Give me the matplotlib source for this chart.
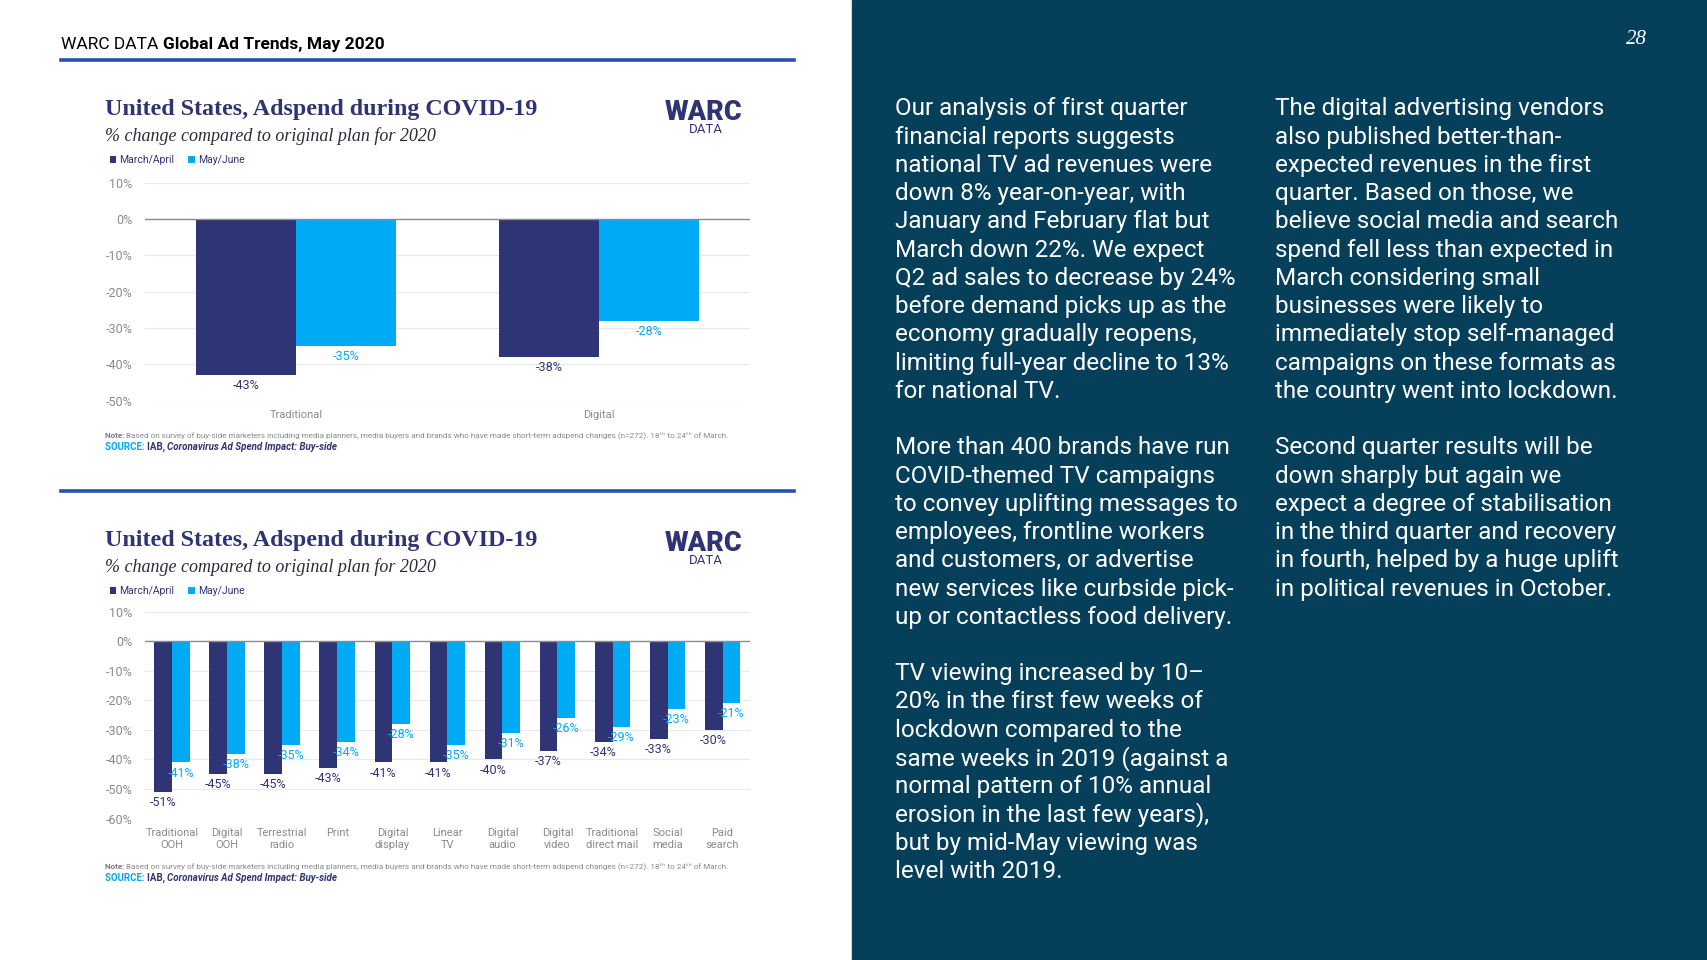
import numpy as np
import matplotlib
matplotlib.use("Agg")
import matplotlib.pyplot as plt
from matplotlib.patches import Rectangle
from matplotlib.lines import Line2D
from matplotlib.transforms import offset_copy

# top chart data
cats_top = ["Traditional", "Digital"]
mar_apr_top = [-43, -38]
may_jun_top = [-35, -28]

# bottom chart data
cats_bottom = ["Traditional\nOOH", "Digital\nOOH", "Terrestrial\nradio", "Print",
               "Digital\ndisplay", "Linear\nTV", "Digital\naudio", "Digital\nvideo",
               "Traditional\ndirect mail", "Social\nmedia", "Paid\nsearch"]
mar_apr_bottom = [-51, -45, -45, -43, -41, -41, -40, -37, -34, -33, -30]
may_jun_bottom = [-41, -38, -35, -34, -28, -35, -31, -26, -29, -23, -21]

series_names = ["March/April", "May/June"]
ticks_top = [10, 0, -10, -20, -30, -40, -50]
ticks_bottom = [10, 0, -10, -20, -30, -40, -50, -60]

title = "United States, Adspend during COVID-19"
subtitle = "% change compared to original plan for 2020"
note = ("Based on survey of buy-side marketers including media planners, media buyers and brands "
        "who have made short-term adspend changes (n=272). 18ᵗʰ to 24ᵗʰ of March.")

col_left = [
    "Our analysis of first quarter",
    "financial reports suggests",
    "national TV ad revenues were",
    "down 8% year-on-year, with",
    "January and February flat but",
    "March down 22%. We expect",
    "Q2 ad sales to decrease by 24%",
    "before demand picks up as the",
    "economy gradually reopens,",
    "limiting full-year decline to 13%",
    "for national TV.",
    "",
    "More than 400 brands have run",
    "COVID-themed TV campaigns",
    "to convey uplifting messages to",
    "employees, frontline workers",
    "and customers, or advertise",
    "new services like curbside pick-",
    "up or contactless food delivery.",
    "",
    "TV viewing increased by 10–",
    "20% in the first few weeks of",
    "lockdown compared to the",
    "same weeks in 2019 (against a",
    "normal pattern of 10% annual",
    "erosion in the last few years),",
    "but by mid-May viewing was",
    "level with 2019.",
]
col_right = [
    "The digital advertising vendors",
    "also published better-than-",
    "expected revenues in the first",
    "quarter. Based on those, we",
    "believe social media and search",
    "spend fell less than expected in",
    "March considering small",
    "businesses were likely to",
    "immediately stop self-managed",
    "campaigns on these formats as",
    "the country went into lockdown.",
    "",
    "Second quarter results will be",
    "down sharply but again we",
    "expect a degree of stabilisation",
    "in the third quarter and recovery",
    "in fourth, helped by a huge uplift",
    "in political revenues in October.",
]

NAVY = "#2f3474"
CYAN = "#00aaf5"
GREY = "#8a8a8a"
PANEL = "#053f5a"
RULE = "#2a4fb3"
SANS = ["Roboto", "DejaVu Sans"]
SERIF = ["Liberation Serif", "DejaVu Serif"]

plt.rcParams["font.family"] = SANS

W, H = 1568, 882  # layout measured on the reference thumbnail
fx = lambda x: x / W
fy = lambda y: 1 - y / H

fig = plt.figure(figsize=(17.07, 9.6), dpi=100)
fig.patch.set_facecolor("white")

# dark panel on the right
fig.add_artist(Rectangle((fx(783), 0), 1 - fx(783), 1, transform=fig.transFigure,
                         color=PANEL, zorder=0))

# header
t = fig.text(fx(56), fy(41), "WARC DATA ", fontsize=12.5, color="black", va="center")
fig.add_artist(plt.Annotation("Global Ad Trends, May 2020", xy=(1, 0), xycoords=t,
                              va="bottom", fontsize=12.5, fontweight="bold", color="black"))
for yy in (55, 451):
    fig.add_artist(Line2D([fx(56), fx(729)], [fy(yy), fy(yy)], lw=2.6, color=RULE))

# page number
fig.text(fx(1503), fy(36), "28", fontsize=15, style="italic", family=SERIF,
         color="white", ha="center", va="center")


def chart(rect, cats, a, b, ticks, width, y0):
    ax = fig.add_axes(rect)
    x = np.arange(len(cats))
    b1 = ax.bar(x - width / 2, a, width, color=NAVY, label=series_names[0], zorder=3)
    b2 = ax.bar(x + width / 2, b, width, color=CYAN, label=series_names[1], zorder=3)
    ax.bar_label(b1, labels=[f"{v}%" for v in a], padding=3, color=NAVY, fontsize=9)
    lab2 = ax.bar_label(b2, labels=[f"{v}%" for v in b], padding=3, color=CYAN, fontsize=9)
    if len(cats) > 2:
        # light labels sit a little to the right of their bars
        for tx in lab2:
            tx.set_transform(offset_copy(tx.get_transform(), fig=fig, x=4, units="dots"))
    ax.set_xlim(-0.5, len(cats) - 0.5)
    ax.set_ylim(ticks[-1], ticks[0])
    ax.set_yticks(ticks)
    ax.set_yticklabels([f"{v}%" for v in ticks])
    ax.set_xticks(x)
    ax.set_xticklabels(cats)
    ax.grid(axis="y", color="#e9e9e9", lw=0.8, zorder=0)
    ax.axhline(0, color="#8c8c8c", lw=1.0, zorder=4)
    for s in ax.spines.values():
        s.set_visible(False)
    ax.tick_params(axis="x", length=0, colors=GREY, labelsize=8, pad=7)
    ax.tick_params(axis="y", length=0, colors=GREY, labelsize=9, pad=9)

    # titles
    fig.text(fx(96), fy(y0), title, family=SERIF, fontweight="bold", fontsize=17.3,
             color=NAVY, va="center")
    fig.text(fx(96), fy(y0 + 24), subtitle, family=SERIF, style="italic", fontsize=13,
             color="#2a2a3a", va="center")
    ax.legend(loc="center left", bbox_to_anchor=(fx(92), fy(y0 + 46)),
              bbox_transform=fig.transFigure, ncol=2, frameon=False, fontsize=7.5,
              handlelength=0.6, handleheight=0.6, handletextpad=0.3, columnspacing=1.4,
              labelcolor=NAVY)

    # logo
    fig.text(fx(646), fy(y0 + 2), "WARC", fontsize=19.5, fontweight="black", color=NAVY,
             ha="center", va="center")
    fig.text(fx(648), fy(y0 + 18), "DATA", fontsize=9.5, color=NAVY, ha="center", va="center")

    # note and source
    n = fig.text(fx(96), fy(y0 + 299), "Note: ", fontsize=5.9, fontweight="bold",
                 color="#7a7a7a", va="center")
    fig.add_artist(plt.Annotation(note, xy=(1, 0), xycoords=n, va="bottom", fontsize=5.9,
                                  color="#8a8a8a", family=SANS))
    s1 = fig.text(fx(96), fy(y0 + 310), "SOURCE: ", fontsize=7, fontweight="bold",
                  color=CYAN, va="center")
    s2 = plt.Annotation("IAB, ", xy=(1, 0), xycoords=s1, va="bottom", fontsize=7,
                        fontweight="bold", color=NAVY)
    fig.add_artist(s2)
    fig.add_artist(plt.Annotation("Coronavirus Ad Spend Impact: Buy-side", xy=(1, 0),
                                  xycoords=s2, va="bottom", fontsize=7, fontweight="bold",
                                  style="italic", color=NAVY))
    return ax


chart([fx(133), fy(368), fx(689) - fx(133), fy(168) - fy(368)],
      cats_top, mar_apr_top, may_jun_top, ticks_top, 0.33, 101)
chart([fx(133), fy(752), fx(689) - fx(133), fy(562) - fy(752)],
      cats_bottom, mar_apr_bottom, may_jun_bottom, ticks_bottom, 0.325, 497)

# text columns on the dark panel
step = 25.95
for col_x, lines in ((822, col_left), (1171, col_right)):
    for i, line in enumerate(lines):
        fig.text(fx(col_x), fy(100 + i * step), line, fontsize=17.5, color="white",
                 va="center")

fig.savefig("out.png", dpi=100)
